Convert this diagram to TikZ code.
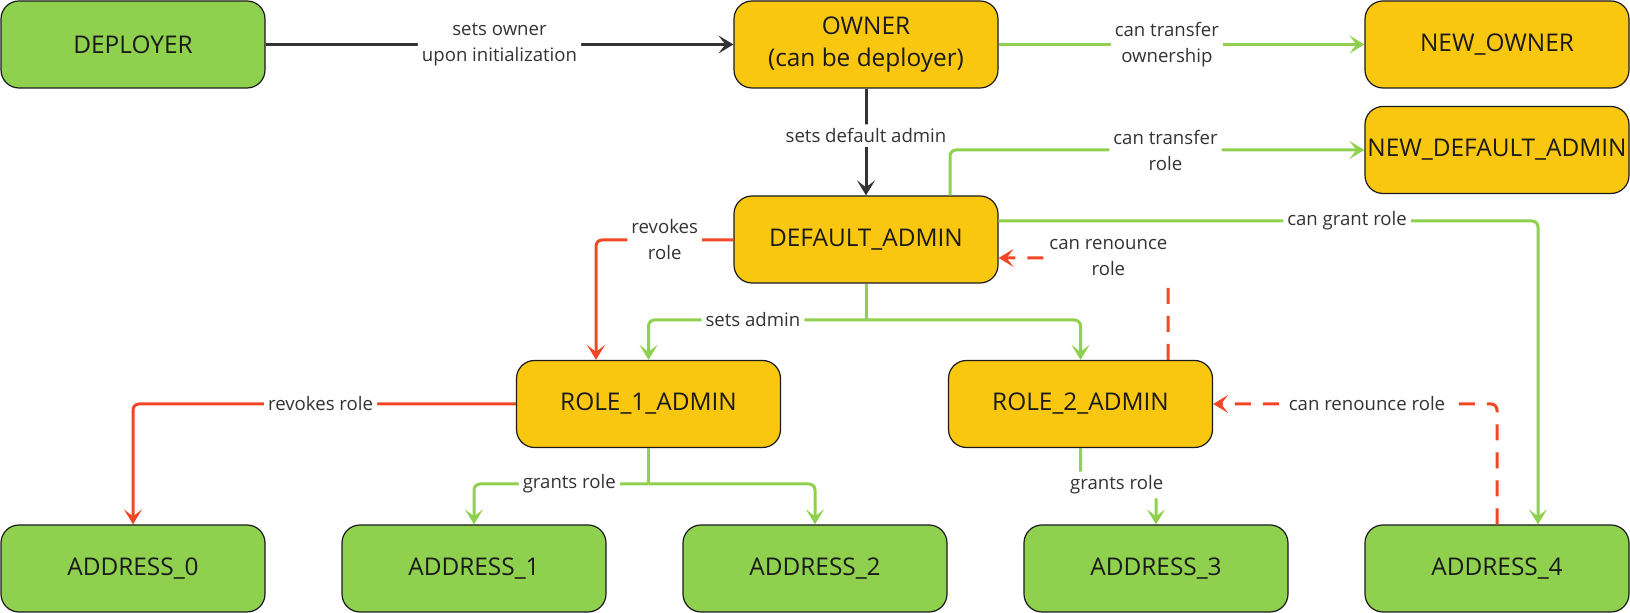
\documentclass[tikz,border=0pt]{standalone}
\usepackage{fontspec}
\setmainfont{Open Sans}
\usetikzlibrary{arrows.meta}
\definecolor{gfill}{HTML}{8FD14F}
\definecolor{yfill}{HTML}{FAC710}
\definecolor{gline}{HTML}{8FD14F}
\definecolor{rline}{HTML}{F24726}
\definecolor{dline}{HTML}{333333}
\definecolor{bord}{HTML}{1A1A1A}
\begin{document}
\begin{tikzpicture}[x=0.5pt,y=-0.5pt,
  box/.style={draw=bord, line width=0.6pt, rounded corners=9pt, minimum width=132pt, minimum height=43.5pt, inner sep=0pt, align=center, font=\fontsize{12.2}{16}\selectfont, text=bord},
  gbox/.style={box, fill=gfill},
  ybox/.style={box, fill=yfill},
  conn/.style={line width=1.5pt, rounded corners=3pt, -{Stealth[length=7.5pt,width=9pt,inset=3.5pt]}},
  plain/.style={line width=1.5pt, rounded corners=3pt},
  dsh/.style={dash pattern=on 8pt off 6pt},
  lbl/.style={fill=white, inner sep=2pt, align=center, font=\fontsize{9.3}{13}\selectfont, text=dline}]
\useasboundingbox (0,0) rectangle (1630,613);
% nodes
\node[gbox] (dep) at (133,44.5) {DEPLOYER};
\node[ybox] (own) at (866,44.5) {OWNER\\(can be deployer)};
\node[ybox] (nown) at (1497,44.5) {NEW\_OWNER};
\node[ybox] (nda) at (1497,150) {NEW\_DEFAULT\_ADMIN};
\node[ybox] (dad) at (866,239.5) {DEFAULT\_ADMIN};
\node[ybox] (r1a) at (648.5,404) {ROLE\_1\_ADMIN};
\node[ybox] (r2a) at (1080.5,404) {ROLE\_2\_ADMIN};
\node[gbox] (a0) at (133,568.5) {ADDRESS\_0};
\node[gbox] (a1) at (474,568.5) {ADDRESS\_1};
\node[gbox] (a2) at (815,568.5) {ADDRESS\_2};
\node[gbox] (a3) at (1156,568.5) {ADDRESS\_3};
\node[gbox] (a4) at (1497,568.5) {ADDRESS\_4};
\coordinate (sa) at (866,320);
\coordinate (g1) at (648.5,484);
\coordinate (g2) at (1080.5,485);
% connectors
\draw[conn, dline] (dep) -- node[lbl]{sets owner\\upon initialization} (own);
\draw[conn, gline] (own) -- node[lbl,pos=0.46]{can transfer\\ownership} (nown);
\draw[conn, dline] (own) -- node[lbl,pos=0.44]{sets default admin} (dad);
\draw[conn, gline] (dad.north -| 950,0) |- node[lbl,pos=0.76]{can transfer\\role} (nda.west);
\draw[conn, gline] (dad.east |- 0,221) -| node[lbl,pos=0.323]{can grant role} (a4.north -| 1538,0);
\draw[conn, rline, dsh] (a4.north -| 1497,0) |- node[lbl,pos=0.729]{can renounce role} (r2a.east);
\draw[conn, rline, dsh] (r2a.north -| 1168,0) |- node[lbl,pos=0.676]{can renounce\\role} (dad.east |- 0,258);
\draw[conn, rline] (dad.west |- 0,240) -| node[lbl,pos=0.25]{revokes\\role} (r1a.north -| 596,0);
\draw[plain, gline] (dad.south) -- (sa);
\draw[conn, gline] (sa) -| node[lbl,pos=0.26]{sets admin} (r1a.north);
\draw[conn, gline] (sa) -| (r2a.north);
\draw[conn, rline] (r1a.west) -| node[lbl,pos=0.255]{revokes role} (a0.north);
\draw[plain, gline] (r1a.south) -- (g1);
\draw[conn, gline] (g1) -| node[lbl,pos=0.227]{grants role} (a1.north);
\draw[conn, gline] (g1) -| (a2.north);
\draw[conn, gline] (r2a.south) -- (g2) -| node[lbl,pos=0.24]{grants role} (a3.north);
\end{tikzpicture}
\end{document}
